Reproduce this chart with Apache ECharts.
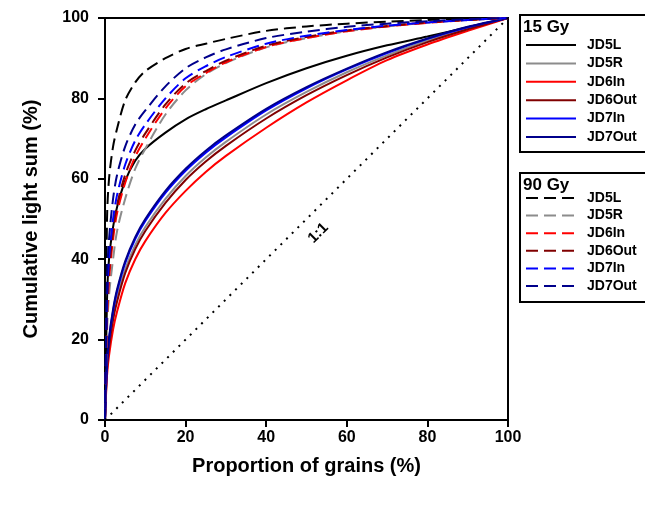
<!DOCTYPE html>
<html>
<head>
<meta charset="utf-8">
<script src="https://cdn.jsdelivr.net/npm/echarts@6/dist/echarts.min.js"></script>
<style>
  html, body { margin: 0; padding: 0; background: #fff; }
  #chart { width: 645px; height: 506px; }
</style>
</head>
<body>
<div id="chart"></div>
<script>
// proportion of grains (%)
const grains = [0, 0.5, 1, 2, 3, 5, 7.5, 10, 15, 20, 25, 30, 40, 50, 60, 70, 80, 90, 100]

// 15 Gy
const jd5L_15   = [0, 30, 40, 48, 53, 59.5, 64.5, 67.5, 71.5, 74.8, 77.3, 79.5, 83.8, 87.5, 90.6, 93.2, 95.4, 97.7, 100]
const jd5R_15   = [0, 13, 18.5, 25.5, 30.5, 37.5, 43.5, 48, 55, 60.7, 65.3, 69.2, 76, 81.6, 86.5, 90.7, 94.4, 97.4, 100]
const jd6In_15  = [0, 11, 16, 22.5, 27, 34, 40, 44.5, 51.5, 57, 61.7, 65.7, 72.7, 79, 84.5, 89.5, 93.4, 96.8, 100]
const jd6Out_15 = [0, 12.5, 18, 25, 29.5, 36.5, 42.5, 47, 54, 59.7, 64.3, 68.2, 75, 80.8, 85.8, 90.2, 94, 97.2, 100]
const jd7In_15  = [0, 14, 20, 27, 32, 39, 45, 49.5, 56.5, 62, 66.5, 70.3, 77, 82.5, 87.2, 91.3, 94.8, 97.7, 100]
const jd7Out_15 = [0, 14.5, 20.5, 27.5, 32.5, 39.5, 45.5, 50, 57, 62.5, 67, 70.8, 77.4, 82.8, 87.4, 91.5, 94.9, 97.8, 100]

// 90 Gy
const jd5L_90   = [0, 50, 60, 68, 72.5, 79.5, 84, 86.8, 90, 92.3, 93.6, 94.8, 96.8, 97.9, 98.6, 99.1, 99.5, 99.8, 100]
const jd5R_90   = [0, 22, 31, 40, 47, 55, 62.5, 67.5, 76, 82, 86, 88.8, 92.7, 95, 96.7, 97.9, 98.8, 99.5, 100]
const jd6In_90  = [0, 25, 35, 45, 51.5, 59, 65.5, 70, 77.5, 83, 86.3, 89, 92.8, 95, 96.7, 97.9, 98.8, 99.5, 100]
const jd6Out_90 = [0, 27, 37, 47, 53.5, 61, 67, 71.3, 78.5, 83.7, 86.8, 89.4, 93.1, 95.3, 96.9, 98, 98.9, 99.5, 100]
const jd7In_90  = [0, 30, 40, 50, 56, 63.5, 69.5, 73.5, 80, 85, 88, 90.3, 93.6, 95.6, 97, 98.1, 98.9, 99.5, 100]
const jd7Out_90 = [0, 35, 45, 55, 61, 68, 73.5, 77, 83, 87.5, 90.2, 92.2, 95, 96.6, 97.8, 98.6, 99.2, 99.7, 100]

// 1:1 reference line
const oneToOne = [[0, 0], [100, 100]]

const names = ['JD5L', 'JD5R', 'JD6In', 'JD6Out', 'JD7In', 'JD7Out']
const colors = ['#000000', '#8c8c8c', '#ff0000', '#800000', '#0000ff', '#00008b']
const set15 = [jd5L_15, jd5R_15, jd6In_15, jd6Out_15, jd7In_15, jd7Out_15]
const set90 = [jd5L_90, jd5R_90, jd6In_90, jd6Out_90, jd7In_90, jd7Out_90]

const zip = (vals) => grains.map((g, i) => [g, vals[i]])

const makeSeries = (vals, i, dose, dashed) => ({
  name: names[i] + ' ' + dose,
  type: 'line',
  data: zip(vals),
  smooth: 0.3,
  symbol: 'none',
  color: colors[i],
  lineStyle: {
    color: colors[i],
    width: 2,
    type: dashed ? [12, 6] : 'solid'
  },
  z: dashed ? 3 : 2
})

const series = [
  ...set15.map((v, i) => makeSeries(v, i, '15 Gy', false)),
  ...set90.map((v, i) => makeSeries(v, i, '90 Gy', true)),
  {
    name: '1:1',
    type: 'line',
    data: oneToOne,
    symbol: 'none',
    silent: true,
    lineStyle: { color: '#000', width: 2, type: [2, 6] },
    markPoint: {
      symbol: 'circle',
      symbolSize: 0,
      data: [{ coord: [52.9, 46.5] }],
      label: {
        show: true,
        position: 'inside',
        formatter: '1:1',
        rotate: 45,
        color: '#000',
        fontSize: 15,
        fontWeight: 'bold',
        fontFamily: 'Liberation Sans'
      }
    }
  }
]

const legendBase = {
  orient: 'vertical',
  left: 520,
  itemWidth: 50,
  itemHeight: 14,
  borderColor: '#000',
  borderWidth: 2,
  borderRadius: 0,
  selectedMode: false,
  itemStyle: { opacity: 0 },
  formatter: (n) => n.split(' ')[0],
  textStyle: {
    color: '#000',
    fontSize: 14,
    fontWeight: 'bold',
    fontFamily: 'Liberation Sans',
    padding: [0, 0, 0, 6]
  }
}

const chart = echarts.init(document.getElementById('chart'))
chart.setOption({
  backgroundColor: '#fff',
  animation: false,
  title: [
    { text: '15 Gy', left: 523, top: 19, padding: 0,
      textStyle: { color: '#000', fontSize: 17, fontWeight: 'bold', fontFamily: 'Liberation Sans' } },
    { text: '90 Gy', left: 523, top: 177, padding: 0,
      textStyle: { color: '#000', fontSize: 17, fontWeight: 'bold', fontFamily: 'Liberation Sans' } }
  ],
  legend: [
    Object.assign({}, legendBase, {
      top: 15,
      padding: [23, 80, 8, 5],
      itemGap: 4.4,
      data: names.map(n => n + ' 15 Gy')
    }),
    Object.assign({}, legendBase, {
      top: 173,
      padding: [18, 80, 9, 5],
      itemGap: 3.6,
      data: names.map(n => n + ' 90 Gy')
    })
  ],
  grid: {
    left: 105, right: 137, top: 18, bottom: 86,
    show: true, borderColor: '#000', borderWidth: 2
  },
  xAxis: {
    type: 'value', min: 0, max: 100, interval: 20,
    name: 'Proportion of grains (%)',
    nameLocation: 'middle', nameGap: 36,
    nameTextStyle: { color: '#000', fontSize: 20, fontWeight: 'bold', fontFamily: 'Liberation Sans' },
    axisLine: { lineStyle: { color: '#000', width: 2 } },
    axisTick: { length: 7, lineStyle: { color: '#000', width: 2 } },
    axisLabel: { color: '#000', fontSize: 16, fontWeight: 'bold', fontFamily: 'Liberation Sans', margin: 10 },
    splitLine: { show: false }
  },
  yAxis: {
    type: 'value', min: 0, max: 100, interval: 20,
    name: 'Cumulative light sum (%)',
    nameLocation: 'middle', nameGap: 64,
    nameTextStyle: { color: '#000', fontSize: 20, fontWeight: 'bold', fontFamily: 'Liberation Sans' },
    axisLine: { lineStyle: { color: '#000', width: 2 } },
    axisTick: { length: 7, lineStyle: { color: '#000', width: 2 } },
    axisLabel: { color: '#000', fontSize: 16, fontWeight: 'bold', fontFamily: 'Liberation Sans', margin: 16 },
    splitLine: { show: false }
  },
  series: series
})
</script>
</body>
</html>
